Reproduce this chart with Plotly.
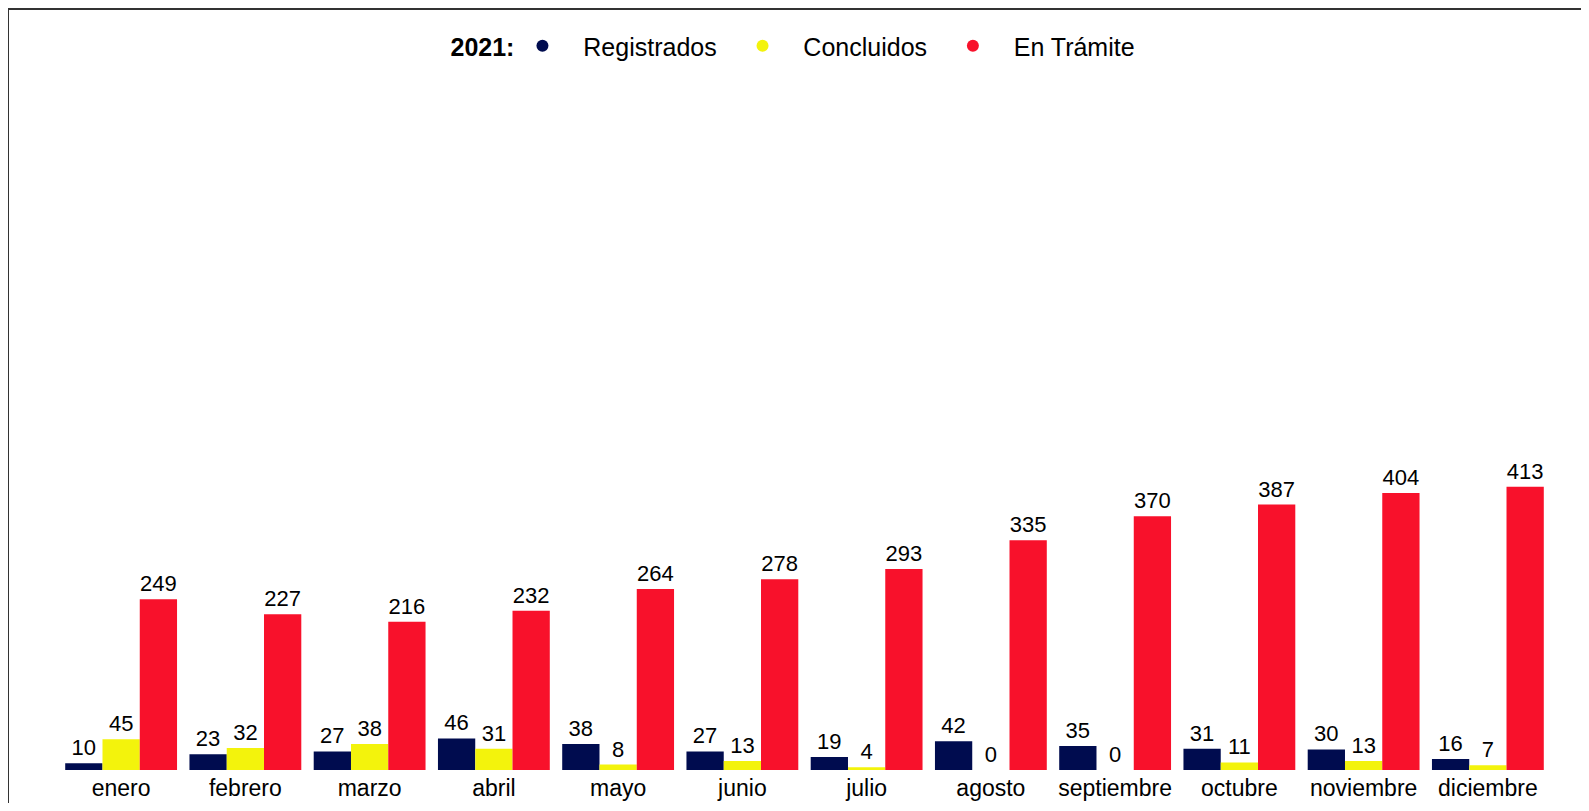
import plotly.graph_objects as go

meses = ["enero", "febrero", "marzo", "abril", "mayo", "junio", "julio",
         "agosto", "septiembre", "octubre", "noviembre", "diciembre"]
registrados = [10, 23, 27, 46, 38, 27, 19, 42, 35, 31, 30, 16]
concluidos = [45, 32, 38, 31, 8, 13, 4, 0, 0, 11, 13, 7]
en_tramite = [249, 227, 216, 232, 264, 278, 293, 335, 370, 387, 404, 413]

series = [
    ("Registrados", registrados, "#000C4F"),
    ("Concluidos", concluidos, "#F3F30C"),
    ("En Trámite", en_tramite, "#F8112B"),
]

fig = go.Figure()
for name, vals, color in series:
    fig.add_trace(go.Bar(
        x=meses, y=vals, name=name,
        marker_color=color, marker_line_width=0,
        text=vals, textposition="outside",
        textfont=dict(size=22, color="black"),
        cliponaxis=False, showlegend=False,
    ))
# circle markers for the legend (nbsp padding to widen the gaps)
pad = "\u00a0" * 3
for name, vals, color in series:
    fig.add_trace(go.Scatter(
        x=[None], y=[None], mode="markers", name=pad + name + pad,
        marker=dict(color=color, size=15, symbol="circle"),
    ))

# the page body has an 8px margin, so figure px = page px - 8
W, H = 1573, 795
ml, mr, mt, mb = 51, 31, 72, 33
pw, ph = W - ml - mr, H - mt - mb

def px_x(p):
    return (p - ml) / pw

def px_y(p):
    return (H - mb - p) / ph

fig.update_layout(
    width=W, height=H,
    paper_bgcolor="white", plot_bgcolor="white",
    font=dict(family="Arial, Liberation Sans, sans-serif", size=22, color="black"),
    margin=dict(l=ml, r=mr, t=mt, b=mb, autoexpand=False),
    barmode="group", bargap=0.1, bargroupgap=0,
    xaxis=dict(showgrid=False, showline=False, ticks="", tickfont=dict(size=23),
               ticklabelstandoff=2, automargin=False),
    yaxis=dict(visible=False, range=[0, 1006], automargin=False),
    legend=dict(
        orientation="h", x=0.5, xanchor="center", y=px_y(38), yanchor="middle",
        title=dict(text="<b>2021:</b>", font=dict(size=25)),
        font=dict(size=25), itemsizing="constant",
    ),
    shapes=[
        dict(type="line", xref="paper", yref="paper",
             x0=px_x(0), x1=px_x(W + 10), y0=px_y(1), y1=px_y(1),
             line=dict(color="#333333", width=2)),
        dict(type="line", xref="paper", yref="paper",
             x0=px_x(0), x1=px_x(0), y0=px_y(0), y1=px_y(H + 10),
             line=dict(color="#333333", width=2)),
    ],
)

fig.write_html("out.html")
